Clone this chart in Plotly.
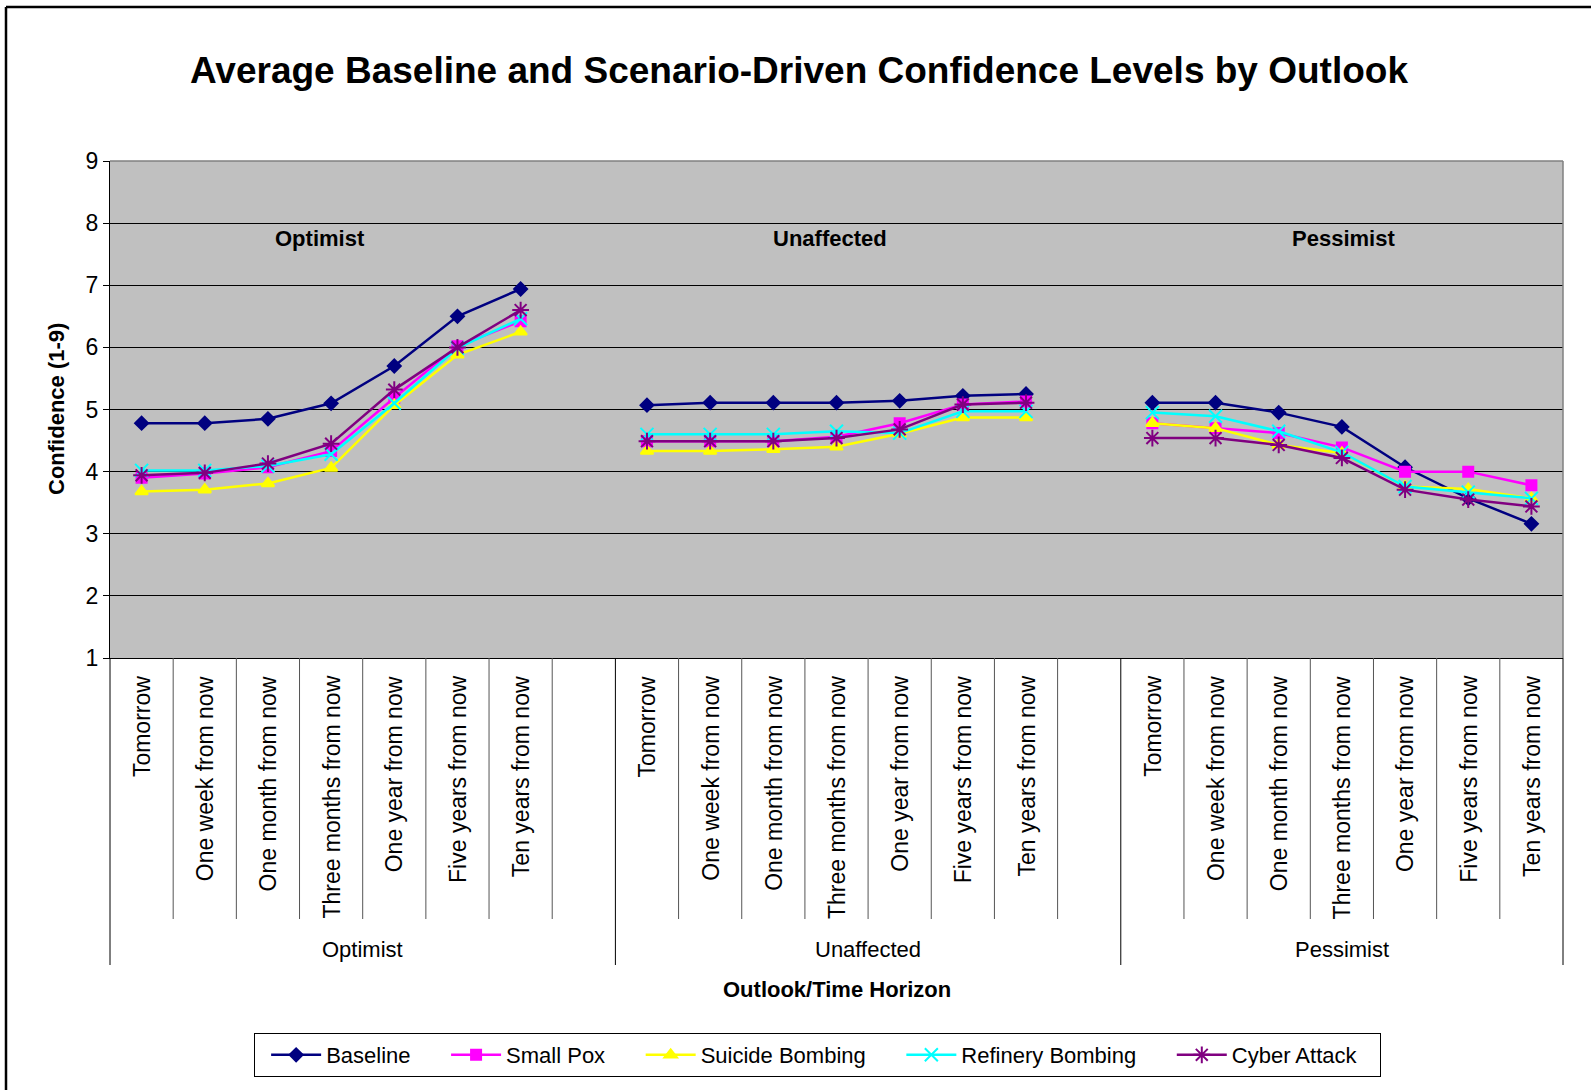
import plotly.graph_objects as go

# ---------------- data ----------------
outlooks = ["Optimist", "Unaffected", "Pessimist"]
horizons = ["Tomorrow", "One week from now", "One month from now", "Three months from now",
            "One year from now", "Five years from now", "Ten years from now"]

series_names = ["Baseline", "Small Pox", "Suicide Bombing", "Refinery Bombing", "Cyber Attack"]

baseline_opt = [4.78, 4.78, 4.85, 5.10, 5.70, 6.50, 6.94]
baseline_una = [5.07, 5.11, 5.11, 5.11, 5.14, 5.22, 5.25]
baseline_pes = [5.11, 5.11, 4.95, 4.72, 4.07, 3.57, 3.16]

smallpox_opt = [3.90, 3.97, 4.07, 4.33, 5.19, 6.02, 6.42]
smallpox_una = [4.49, 4.49, 4.49, 4.56, 4.78, 5.08, 5.13]
smallpox_pes = [4.78, 4.70, 4.62, 4.39, 4.00, 4.00, 3.78]

suicide_opt = [3.68, 3.71, 3.81, 4.06, 5.07, 5.88, 6.25]
suicide_una = [4.33, 4.33, 4.36, 4.40, 4.61, 4.87, 4.87]
suicide_pes = [4.78, 4.70, 4.43, 4.30, 3.76, 3.72, 3.57]

refinery_opt = [4.02, 4.02, 4.09, 4.28, 5.10, 5.99, 6.46]
refinery_una = [4.60, 4.60, 4.60, 4.65, 4.62, 4.97, 4.97]
refinery_pes = [4.95, 4.89, 4.65, 4.31, 3.76, 3.67, 3.57]

cyber_opt = [3.94, 3.98, 4.13, 4.45, 5.32, 6.00, 6.60]
cyber_una = [4.49, 4.49, 4.49, 4.54, 4.68, 5.08, 5.11]
cyber_pes = [4.54, 4.54, 4.43, 4.22, 3.71, 3.55, 3.44]

y_ticks = [1, 2, 3, 4, 5, 6, 7, 8, 9]

# ---------------- styling ----------------
FONT = "Liberation Sans, Arial, sans-serif"
colors = ["#000080", "#FF00FF", "#FFFF00", "#00FFFF", "#800080"]
symbols = ["diamond", "square", "triangle-up", "x-thin-open", "asterisk-open"]
msizes = [10, 10, 11, 13, 14]
legend_pad = [5, 5, 5, 5, 3]

def with_gaps(a, b, c):
    # categories: 7 horizons + blank, 7 horizons + blank, 7 horizons
    return list(a) + [None] + list(b) + [None] + list(c)

all_series = [
    with_gaps(baseline_opt, baseline_una, baseline_pes),
    with_gaps(smallpox_opt, smallpox_una, smallpox_pes),
    with_gaps(suicide_opt, suicide_una, suicide_pes),
    with_gaps(refinery_opt, refinery_una, refinery_pes),
    with_gaps(cyber_opt, cyber_una, cyber_pes),
]
cat_labels = horizons + [""] + horizons + [""] + horizons
n_cat = len(cat_labels)
x_idx = list(range(n_cat))

fig = go.Figure()
NB = "\u00a0"
for name, vals, col, sym, ms, pad in zip(series_names, all_series, colors, symbols, msizes, legend_pad):
    fig.add_trace(go.Scatter(
        x=x_idx, y=vals, name=name + NB * pad, mode="lines+markers",
        connectgaps=False,
        line=dict(color=col, width=2.5),
        marker=dict(symbol=sym, size=ms, color=col, line=dict(color=col, width=2)),
    ))

# plot geometry (px)
W, H = 1591, 1090
L, R, T, B = 110, 28, 161, 432
plot_h = H - T - B

def py(px_y):
    """figure pixel y -> paper y"""
    return (H - B - px_y) / plot_h

def px_(px_x):
    return (px_x - L) / (W - L - R)

shapes = []
# category separators (short) and group separators (long)
group_bounds = {0, 8, 16, n_cat}
for k in range(n_cat + 1):
    xp = k / n_cat
    long_ = k in group_bounds
    shapes.append(dict(type="line", xref="paper", yref="paper", x0=xp, x1=xp,
                       y0=0, y1=py(965) if long_ else py(919),
                       line=dict(color="#000000" if long_ else "#555555", width=1)))
# plot area top/right border (gray)
shapes.append(dict(type="line", xref="paper", yref="paper", x0=0, x1=1, y0=1, y1=1,
                   line=dict(color="#808080", width=1.5)))
shapes.append(dict(type="line", xref="paper", yref="paper", x0=1, x1=1, y0=0, y1=1,
                   line=dict(color="#808080", width=1.5)))
# outer chart border (left & top)
shapes.append(dict(type="line", xref="paper", yref="paper", x0=px_(6), x1=px_(1700),
                   y0=py(7), y1=py(7), line=dict(color="black", width=2.5)))
shapes.append(dict(type="line", xref="paper", yref="paper", x0=px_(6), x1=px_(6),
                   y0=py(7), y1=py(1200), line=dict(color="black", width=2.5)))

annotations = []
for i, lab in enumerate(cat_labels):
    if lab:
        annotations.append(dict(x=i, xref="x", y=py(674), yref="paper", text=lab,
                                textangle=-90, showarrow=False, xanchor="center",
                                yanchor="top", font=dict(family=FONT, size=23, color="black")))
group_centers = [3.5, 11.5, 19]
for g, cx in zip(outlooks, group_centers):
    annotations.append(dict(x=cx, xref="x", y=py(950), yref="paper", text=g, showarrow=False,
                            xanchor="center", yanchor="middle",
                            font=dict(family=FONT, size=22, color="black")))
# in-plot bold outlook labels
inplot_x = [2.82, 10.9, 19.02]
for g, cx in zip(outlooks, inplot_x):
    annotations.append(dict(x=cx, xref="x", y=7.75, yref="y", text="<b>" + g + "</b>",
                            showarrow=False, xanchor="center", yanchor="middle",
                            font=dict(family=FONT, size=22, color="black")))
# axis titles
annotations.append(dict(x=0.5, xref="paper", y=py(989), yref="paper",
                        text="<b>Outlook/Time Horizon</b>", showarrow=False,
                        xanchor="center", yanchor="middle",
                        font=dict(family=FONT, size=22, color="black")))
annotations.append(dict(x=px_(56), xref="paper", y=py(409), yref="paper",
                        text="<b>Confidence (1-9)</b>", textangle=-90, showarrow=False,
                        xanchor="center", yanchor="middle",
                        font=dict(family=FONT, size=22, color="black")))

fig.update_layout(
    width=W, height=H,
    margin=dict(l=L, r=R, t=T, b=B, pad=0),
    paper_bgcolor="white",
    plot_bgcolor="#C0C0C0",
    font=dict(family=FONT, size=22, color="black"),
    title=dict(text="<b>Average Baseline and Scenario-Driven Confidence Levels by Outlook</b>",
               x=799 / W, xanchor="center", y=1 - 70 / H, yanchor="middle", yref="container",
               font=dict(family=FONT, size=37, color="black")),
    xaxis=dict(range=[-0.5, n_cat - 0.5], showticklabels=False, showgrid=False,
               zeroline=False, showline=True, linecolor="black", linewidth=1, ticks=""),
    yaxis=dict(range=[1, 9], tickvals=y_ticks, showgrid=True, gridcolor="black", gridwidth=1,
               zeroline=False, showline=True, linecolor="black", linewidth=1,
               ticks="outside", ticklen=6, tickcolor="black",
               tickfont=dict(family=FONT, size=23, color="black")),
    showlegend=True,
    legend=dict(orientation="h", x=px_(254), xanchor="left", y=py(1033), yanchor="top",
                bordercolor="black", borderwidth=1, bgcolor="white",
                font=dict(family=FONT, size=22, color="black"), itemwidth=50,
                traceorder="normal",
                title=dict(text=NB, side="left", font=dict(family=FONT, size=4))),
    shapes=shapes,
    annotations=annotations,
)

fig.write_html("out.html", config={"displayModeBar": False},
               post_script="document.body.style.margin='0px';document.body.style.overflow='hidden';")
